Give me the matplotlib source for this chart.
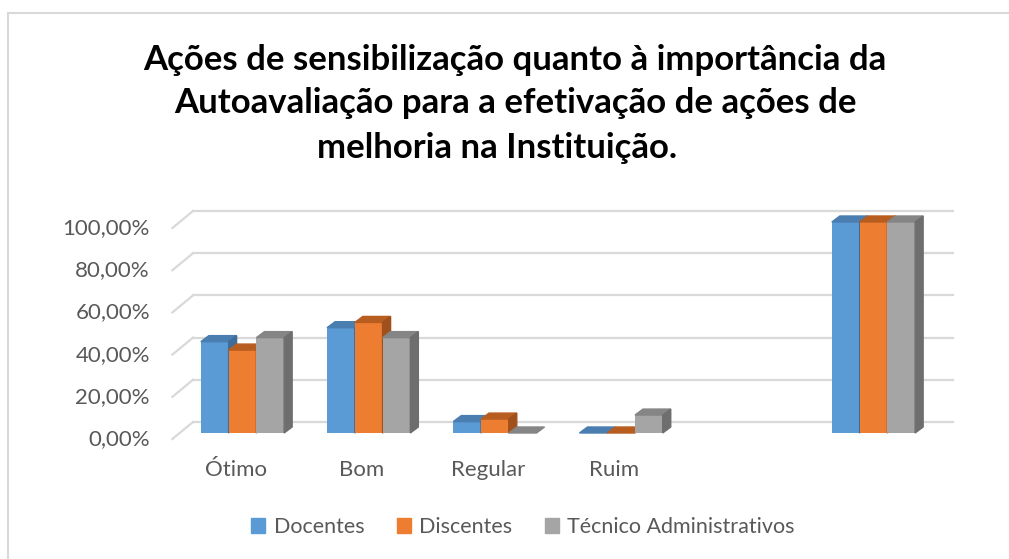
import matplotlib.pyplot as plt
from matplotlib.patches import Polygon, Patch
from matplotlib.lines import Line2D

# dados
categorias = ['Ótimo', 'Bom', 'Regular', 'Ruim', '', '']
docentes = [43.3, 49.9, 5.4, 0.0, None, 100.0]
discentes = [39.3, 52.4, 6.6, 0.0, None, 100.0]
tecnicos = [45.2, 45.2, 0.0, 8.5, None, 100.0]
series_nomes = ['Docentes', 'Discentes', 'Técnico Administrativos']
yticks = [0, 20, 40, 60, 80, 100]
titulo = ['Ações de sensibilização quanto à importância da',
          'Autoavaliação para a efetivação de ações de',
          'melhoria na Instituição.']

frente = ['#5B9BD5', '#ED7D31', '#A5A5A5']
topo = ['#4A7DB0', '#B85D20', '#858585']
lado = ['#3F6C98', '#A0501C', '#6E6E6E']
cor_texto = '#595959'

plt.rcParams['font.family'] = ['Lato', 'DejaVu Sans']

W, H = 1009, 559
fig = plt.figure(figsize=(W / 100, H / 100), dpi=100)

# eixo = plano da face frontal das barras
px_cat = 126.2          # pixels por categoria
ax_left = 179.4
ax = fig.add_axes([ax_left / W, 1 - 433 / H, 6 * px_cat / W, 211 / H])
ax.set_xlim(-0.5, 5.5)
ax.set_ylim(0, 100)
ax.axis('off')

ux = 1 / px_cat          # unidades por pixel em x
uy = 100 / 211           # unidades por pixel em y

# parede de fundo e piso
x_fundo_esq = -0.5 + (193 - ax_left) * ux
x_fundo_dir = -0.5 + (953 - ax_left) * ux
dy_fundo = 11 * uy
x_frente = -0.5 - 7 * ux
dy_frente = -6 * uy
grid_cor = '#D9D9D9'
for v in yticks:
    ax.add_line(Line2D([x_fundo_esq, x_fundo_dir], [v + dy_fundo] * 2, color=grid_cor,
                       lw=1.6, clip_on=False, zorder=0))
    ax.add_line(Line2D([x_frente, x_fundo_esq], [v + dy_frente, v + dy_fundo], color=grid_cor,
                       lw=1.6, clip_on=False, zorder=0))
    ax.text(-0.5 + (150 - ax_left) * ux, v + dy_frente, f'{v:.2f}'.replace('.', ',') + '%',
            ha='right', va='center', fontsize=16, color=cor_texto)

for i, c in enumerate(categorias):
    ax.text(i - 7 * ux, -17.5, c, ha='center', va='center', fontsize=16, color=cor_texto)

# barras 3D simuladas
larg = 0.22
ddx, ddy = 8 * ux, 6 * uy
for j, vals in enumerate([docentes, discentes, tecnicos]):
    for i, v in enumerate(vals):
        if v is None:
            continue
        x0 = i + (j - 1) * larg - larg / 2
        x1 = x0 + larg
        zz = 2 + i * 10 + j * 3
        ax.bar(x0, v, width=larg, align='edge', color=frente[j], zorder=zz, clip_on=False)
        ax.add_patch(Polygon([(x0, v), (x1, v), (x1 + ddx, v + ddy), (x0 + ddx, v + ddy)],
                             closed=True, color=topo[j], zorder=zz + 1, clip_on=False))
        if v > 0:
            ax.add_patch(Polygon([(x1, 0), (x1 + ddx, ddy), (x1 + ddx, v + ddy), (x1, v)],
                                 closed=True, color=lado[j], zorder=zz + 1, clip_on=False))

# titulo
for linha, xc, yc in zip(titulo, [515, 515, 497], [60, 103, 148]):
    fig.text(xc / W, 1 - yc / H, linha, ha='center', va='center', fontsize=25,
             fontweight='bold', color='black')

# legenda
handles = [Patch(color=frente[k]) for k in range(3)]
fig.legend(handles, series_nomes, loc='center', bbox_to_anchor=(523 / W, 1 - 527 / H),
           ncol=3, frameon=False, fontsize=15.5, handlelength=0.65, handleheight=0.65,
           handletextpad=0.4, columnspacing=1.5, labelcolor=cor_texto)

# moldura
fig.add_artist(Line2D([8 / W, 1], [1 - 13 / H] * 2, color='#D9D9D9', lw=1.5))
fig.add_artist(Line2D([8 / W] * 2, [0, 1 - 13 / H], color='#D9D9D9', lw=1.5))

fig.savefig('out.png', dpi=100)
